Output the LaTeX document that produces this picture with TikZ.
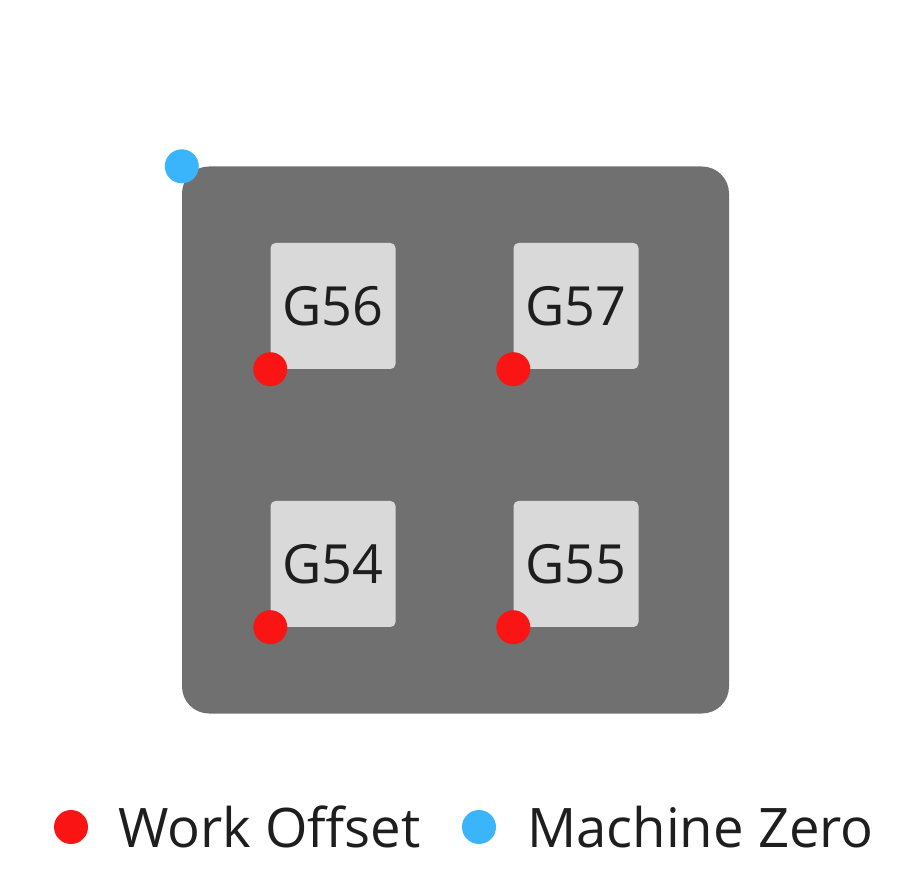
\documentclass[tikz,border=0pt]{standalone}
\usepackage{fontspec}
\setmainfont{Open Sans}
\usetikzlibrary{positioning}
\definecolor{plategray}{HTML}{707070}
\definecolor{boxgray}{HTML}{D9D9D9}
\definecolor{offsetred}{HTML}{FA1414}
\definecolor{zeroblue}{HTML}{3AB4FA}
\definecolor{textgray}{HTML}{1E1E1E}
\tikzset{
    plate/.style = {rectangle, fill=plategray, rounded corners=27pt, minimum width=547pt, minimum height=547pt, inner sep=0},
    offsetbox/.style = {rectangle, fill=boxgray, rounded corners=5pt, minimum width=125pt, minimum height=126pt, inner sep=0, text=textgray, font=\fontsize{54}{60}\selectfont},
    reddot/.style = {circle, fill=offsetred, minimum size=34pt, inner sep=0},
    bluedot/.style = {circle, fill=zeroblue, minimum size=34pt, inner sep=0},
    legendtext/.style = {anchor=base west, inner sep=0, text=textgray, font=\fontsize{54.5}{60}\selectfont}
}
\begin{document}
\begin{tikzpicture}[x=1pt,y=-1pt]
\useasboundingbox (0,0) rectangle (914,882);
\node[plate] at (455.5, 440.0) (plate) {};
\node[offsetbox] at (333.0, 306.0) (g56) {G56};
\node[offsetbox] at (576.0, 306.0) (g57) {G57};
\node[offsetbox] at (333.0, 564.0) (g54) {G54};
\node[offsetbox] at (576.0, 564.0) (g55) {G55};
%
\node[reddot] at (g56.south west) (o56) {};
\node[reddot] at (g57.south west) (o57) {};
\node[reddot] at (g54.south west) (o54) {};
\node[reddot] at (g55.south west) (o55) {};
\node[bluedot] at (plate.north west) (zero) {};
%
\node[reddot] at (71, 827) (keyoffset) {};
\node[legendtext] at (118, 847) (txtoffset) {Work Offset};
\node[bluedot] at (479, 827) (keyzero) {};
\node[legendtext] at (527, 847) (txtzero) {Machine Zero};

\end{tikzpicture}
\end{document}
